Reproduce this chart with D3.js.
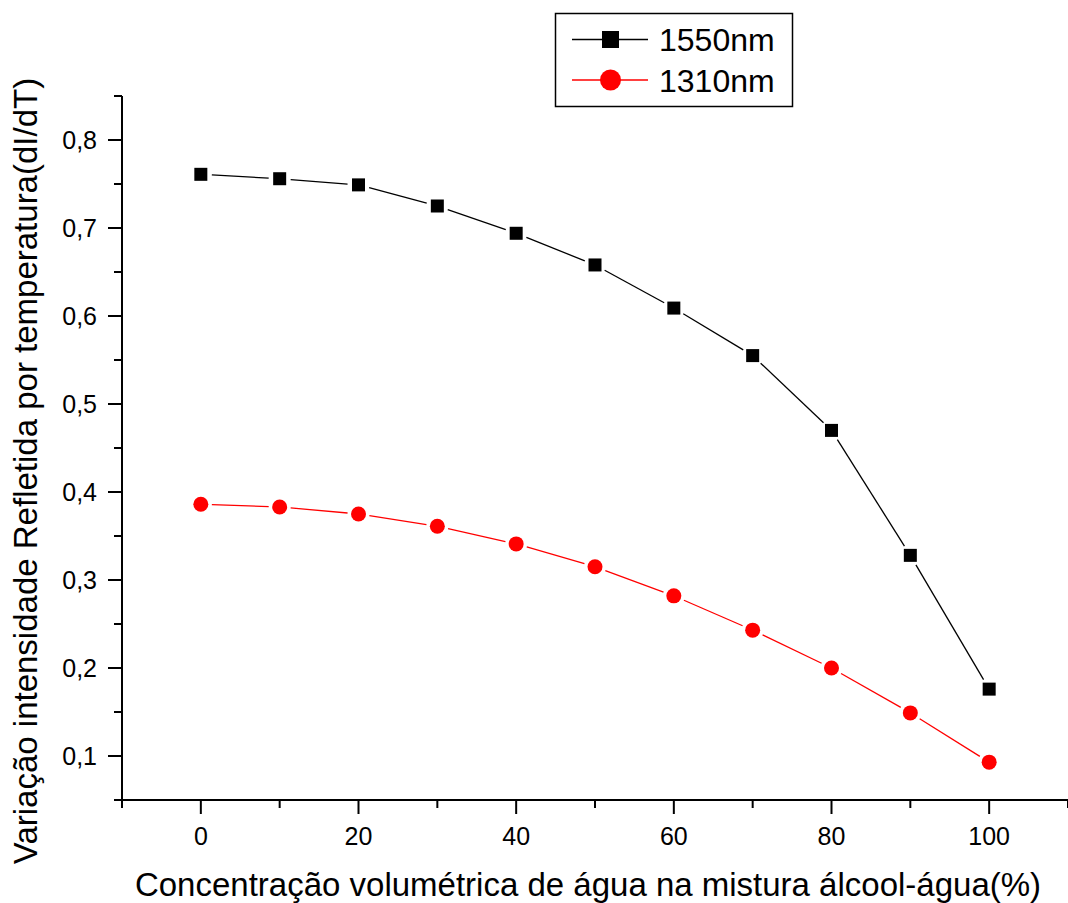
<!DOCTYPE html>
<html>
<head>
<meta charset="utf-8">
<script src="https://cdn.jsdelivr.net/npm/d3@7"></script>
<style>
  html, body { margin: 0; padding: 0; background: #fff; }
  svg { display: block; font-family: "Liberation Sans", Arial, sans-serif; }
</style>
</head>
<body>
<svg id="chart" width="1068" height="903"></svg>
<script>
// Water concentration in the alcohol-water mixture (%)
const concentration = [0, 10, 20, 30, 40, 50, 60, 70, 80, 90, 100];
// Reflected intensity variation per temperature (dI/dT)
const s1550 = [0.761, 0.756, 0.749, 0.725, 0.694, 0.658, 0.609, 0.555, 0.470, 0.328, 0.176];
const s1310 = [0.386, 0.383, 0.375, 0.361, 0.341, 0.315, 0.282, 0.243, 0.200, 0.149, 0.093];
const seriesNames = ["1550nm", "1310nm"];
const xTicks = [0, 20, 40, 60, 80, 100];
const yTicks = [0.1, 0.2, 0.3, 0.4, 0.5, 0.6, 0.7, 0.8];

(function () {
const svg = d3.select("#chart");
const mLeft = 122, mRight = 1068, mTop = 96, mBottom = 800;

const x = d3.scaleLinear().domain([-10, 110]).range([mLeft, mRight]);
const y = d3.scaleLinear().domain([0.05, 0.85]).range([mBottom, mTop]);
const fmt = v => d3.format(".1f")(v).replace(".", ",");

// Y axis
const yMinor = d3.range(0.05, 0.86, 0.1).map(v => +v.toFixed(2));
const gy = svg.append("g").attr("transform", `translate(${mLeft},0)`);
gy.append("line").attr("y1", mTop).attr("y2", mBottom).attr("stroke", "#000").attr("stroke-width", 2);
gy.selectAll(".maj").data(yTicks).join("line").attr("class", "maj")
  .attr("x1", -14).attr("x2", 0).attr("y1", d => y(d)).attr("y2", d => y(d))
  .attr("stroke", "#000").attr("stroke-width", 2);
gy.selectAll(".min").data(yMinor).join("line").attr("class", "min")
  .attr("x1", -8).attr("x2", 0).attr("y1", d => y(d)).attr("y2", d => y(d))
  .attr("stroke", "#000").attr("stroke-width", 2);
gy.selectAll("text").data(yTicks).join("text")
  .attr("x", -25).attr("y", d => y(d)).attr("dy", "0.36em")
  .attr("text-anchor", "end").attr("font-size", 25).text(fmt);

// X axis
const xMinor = d3.range(-10, 111, 20);
const gx = svg.append("g").attr("transform", `translate(0,${mBottom})`);
gx.append("line").attr("x1", mLeft).attr("x2", mRight).attr("stroke", "#000").attr("stroke-width", 2);
gx.selectAll(".maj").data(xTicks).join("line").attr("class", "maj")
  .attr("x1", d => x(d)).attr("x2", d => x(d)).attr("y1", 0).attr("y2", 14)
  .attr("stroke", "#000").attr("stroke-width", 2);
gx.selectAll(".min").data(xMinor).join("line").attr("class", "min")
  .attr("x1", d => x(d)).attr("x2", d => x(d)).attr("y1", 0).attr("y2", 8)
  .attr("stroke", "#000").attr("stroke-width", 2);
gx.selectAll("text").data(xTicks).join("text")
  .attr("x", d => x(d)).attr("y", 45)
  .attr("text-anchor", "middle").attr("font-size", 25).text(d => d);

// Axis titles
svg.append("text").attr("x", 588).attr("y", 896).attr("text-anchor", "middle")
  .attr("font-size", 33).text("Concentração volumétrica de água na mistura álcool-água(%)");
svg.append("text").attr("transform", "translate(37,471) rotate(-90)").attr("text-anchor", "middle")
  .attr("font-size", 33).text("Variação intensidade Refletida por temperatura(dI/dT)");

// Line segments with small gaps around the markers
function segments(vals, gap) {
  const pts = concentration.map((c, i) => [x(c), y(vals[i])]);
  const out = [];
  for (let i = 0; i < pts.length - 1; i++) {
    const [x0, y0] = pts[i], [x1, y1] = pts[i + 1];
    const len = Math.hypot(x1 - x0, y1 - y0);
    const ux = (x1 - x0) / len, uy = (y1 - y0) / len;
    out.push([x0 + ux * gap, y0 + uy * gap, x1 - ux * gap, y1 - uy * gap]);
  }
  return out;
}

const series = [
  { name: seriesNames[0], vals: s1550, color: "#000", shape: "square" },
  { name: seriesNames[1], vals: s1310, color: "#ff0000", shape: "circle" }
];

series.forEach(s => {
  const g = svg.append("g");
  g.selectAll("line").data(segments(s.vals, 11)).join("line")
    .attr("x1", d => d[0]).attr("y1", d => d[1]).attr("x2", d => d[2]).attr("y2", d => d[3])
    .attr("stroke", s.color).attr("stroke-width", 1.3);
  if (s.shape === "square") {
    g.selectAll("rect").data(s.vals).join("rect")
      .attr("x", (d, i) => x(concentration[i]) - 6.5).attr("y", d => y(d) - 6.5)
      .attr("width", 13).attr("height", 13).attr("fill", s.color);
  } else {
    g.selectAll("circle").data(s.vals).join("circle")
      .attr("cx", (d, i) => x(concentration[i])).attr("cy", d => y(d))
      .attr("r", 7.5).attr("fill", s.color);
  }
});

// Legend
const lg = svg.append("g");
lg.append("rect").attr("x", 555.5).attr("y", 13.5).attr("width", 237).attr("height", 93)
  .attr("fill", "#fff").attr("stroke", "#000").attr("stroke-width", 1.5);
series.forEach((s, i) => {
  const cy = 39.5 + i * 40.5;
  lg.append("line").attr("x1", 572).attr("x2", 648).attr("y1", cy).attr("y2", cy)
    .attr("stroke", s.color).attr("stroke-width", 1.3);
  if (s.shape === "square") {
    lg.append("rect").attr("x", 602).attr("y", cy - 8.5).attr("width", 17).attr("height", 17).attr("fill", s.color);
  } else {
    lg.append("circle").attr("cx", 610.5).attr("cy", cy).attr("r", 10.5).attr("fill", s.color);
  }
  lg.append("text").attr("x", 659).attr("y", cy + 11.5)
    .attr("font-size", 32).text(s.name);
});
})();
</script>
</body>
</html>
